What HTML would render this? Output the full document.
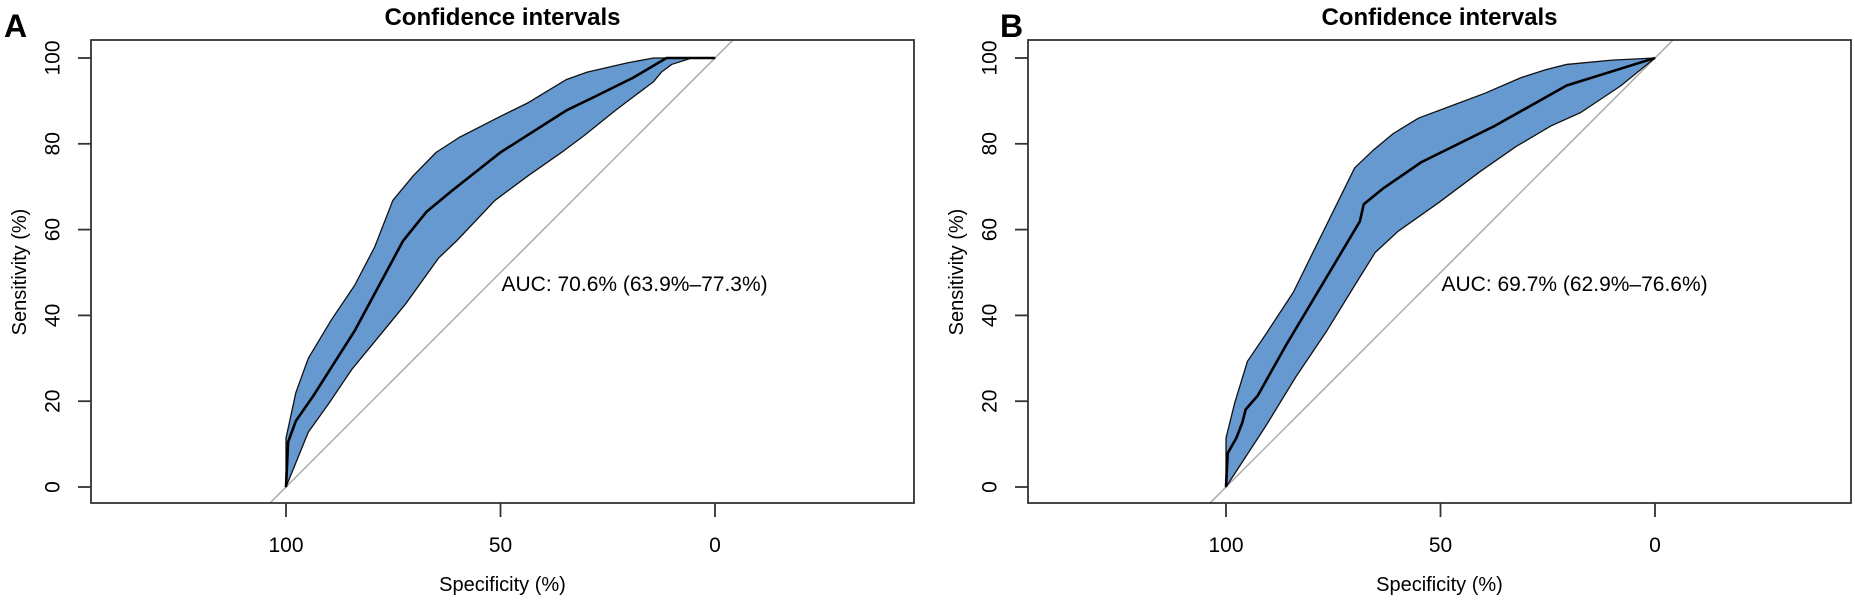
<!DOCTYPE html>
<html><head><meta charset="utf-8"><style>
body{margin:0;background:#fff;}
svg{display:block;font-family:"Liberation Sans",Arial,sans-serif;}
</style></head><body>
<svg id="c" width="1855" height="601" viewBox="0 0 1855 601"></svg>
<script>
const xTicks=[100,50,0];
const yTicks=[0,20,40,60,80,100];
const aUpperSpec=[100,100,97.7,94.8,89.4,84,79.3,75.1,70.3,65,59.6,50,43.5,34.6,29.8,20.3,14.3,0];
const aUpperSens=[0,11.4,22,30,39,47,56,66.8,72.6,78,81.5,86.4,89.6,95,96.7,98.9,100,100];
const aLowerSpec=[100,94.8,90,84.6,78,72.1,64.4,60.2,51.3,43.5,35.2,30.4,23.2,17.9,14.3,12.5,10.1,5.4,0];
const aLowerSens=[0,12.8,19.5,27.5,35.5,42.7,53.4,57.4,66.8,72.6,78.4,82,87.8,91.8,94.5,96.7,98.5,100,100];
const aMidSpec=[100,99.5,97.7,93.6,84,72.7,67.3,61.4,50,34.6,28,19.1,11.3,0];
const aMidSens=[0,10.5,15.4,21.3,36.4,57.4,64.1,69,78,87.8,91,95.4,100,100];
const bUpperSpec=[100,100,98,95,90.8,84.3,77.7,70,65.8,61,55.1,46.8,39.6,31.3,25.4,20.6,10,0];
const bUpperSens=[0,11.4,19.5,29.3,35.5,45.4,58.8,74.4,78.4,82.4,86,89.1,91.8,95.4,97.3,98.5,99.5,100];
const bLowerSpec=[100,90.8,83.7,76.5,70,65.2,59.9,50.4,40.8,32.5,24.2,17.3,8,0];
const bLowerSens=[0,14.1,25.7,36.4,47,54.7,59.6,66.3,73.5,79.3,84.2,87.3,93.5,100];
const bMidSpec=[100,99.6,97.6,96.2,95.4,92.6,86.1,68.8,67.9,63.5,54.5,37.3,20.6,0];
const bMidSens=[0,7.9,11.4,15,18.1,21.3,32.9,61.9,65.9,69.5,75.7,84.2,93.6,100];
const aucLabels=["AUC: 70.6% (63.9%–77.3%)","AUC: 69.7% (62.9%–76.6%)"];
const panelLetters=["A","B"];

const NS="http://www.w3.org/2000/svg";
const svg=document.getElementById('c');
function mk(tag,attrs,parent){const e=document.createElementNS(NS,tag);for(const k in attrs)e.setAttribute(k,attrs[k]);(parent||svg).appendChild(e);return e;}

const panels=[
 {box:[91,40,914,503],x0:715,letter:[4,37],data:[aUpperSpec,aUpperSens,aLowerSpec,aLowerSens,aMidSpec,aMidSens]},
 {box:[1028,40,1851,503],x0:1655,letter:[1000,37],data:[bUpperSpec,bUpperSens,bLowerSpec,bLowerSens,bMidSpec,bMidSens]}
];
const k=4.29, y0=487;
panels.forEach((p,i)=>{
  const g=mk('g',{});
  
  
  const X=s=>p.x0-s*k, Y=v=>y0-v*k;
  const [l,t,r,b]=p.box, cx=(l+r)/2;
  const lt=mk('text',{x:p.letter[0],y:p.letter[1],'font-size':32,'font-weight':'bold'},g);lt.textContent=panelLetters[i];
  
  
  const ti=mk('text',{x:cx,y:25,'font-size':24,'font-weight':'bold','text-anchor':'middle'},g);ti.textContent='Confidence intervals';
  
  
  const cp=mk('clipPath',{id:'cp'+i},g);mk('rect',{x:l,y:t,width:r-l,height:b-t},cp);
  const dg=mk('line',{x1:X(110),y1:Y(-10),x2:X(-10),y2:Y(110),stroke:'#aaa','stroke-width':1.5,'clip-path':'url(#cp'+i+')'},g);
  
  
  const [us,uv,ls,lv,ms,mv]=p.data;
  let d='M'+us.map((s,j)=>X(s)+','+Y(uv[j])).join(' L');
  for(let j=ls.length-1;j>=0;j--)d+=' L'+X(ls[j])+','+Y(lv[j]);
  d+='Z';
  const band=mk('path',{d:d,fill:'#6699cf',stroke:'#111','stroke-width':1.3,'stroke-linejoin':'round'},g);
  
  
  const mid=mk('polyline',{points:ms.map((s,j)=>X(s)+','+Y(mv[j])).join(' '),fill:'none',stroke:'#000','stroke-width':2.6,'stroke-linejoin':'round'},g);
  
  
  const bx=mk('rect',{x:l,y:t,width:r-l,height:b-t,fill:'none',stroke:'#333','stroke-width':1.8},g);
  
  
  xTicks.forEach(v=>{
    mk('line',{x1:X(v),y1:b,x2:X(v),y2:b+14,stroke:'#333','stroke-width':1.8},g);
    const tx=mk('text',{x:X(v),y:552,'font-size':21,'text-anchor':'middle'},g);tx.textContent=v;
    
    
  });
  yTicks.forEach(v=>{
    mk('line',{x1:l-13,y1:Y(v),x2:l,y2:Y(v),stroke:'#333','stroke-width':1.8},g);
    const tx=mk('text',{x:l-38,y:Y(v),'font-size':21,'text-anchor':'middle',transform:'rotate(-90 '+(l-38)+' '+Y(v)+')','dominant-baseline':'central'},g);tx.textContent=v;
    
    
  });
  const xl=mk('text',{x:cx,y:591,'font-size':20,'text-anchor':'middle'},g);xl.textContent='Specificity (%)';
  
  
  const yl=mk('text',{x:l-71,y:272,'font-size':20,'text-anchor':'middle',transform:'rotate(-90 '+(l-71)+' 272)','dominant-baseline':'central'},g);yl.textContent='Sensitivity (%)';
  
  
  const au=mk('text',{x:X(50)+1,y:291,'font-size':21},g);au.textContent=aucLabels[i];
  
  
});
</script>
</body></html>
